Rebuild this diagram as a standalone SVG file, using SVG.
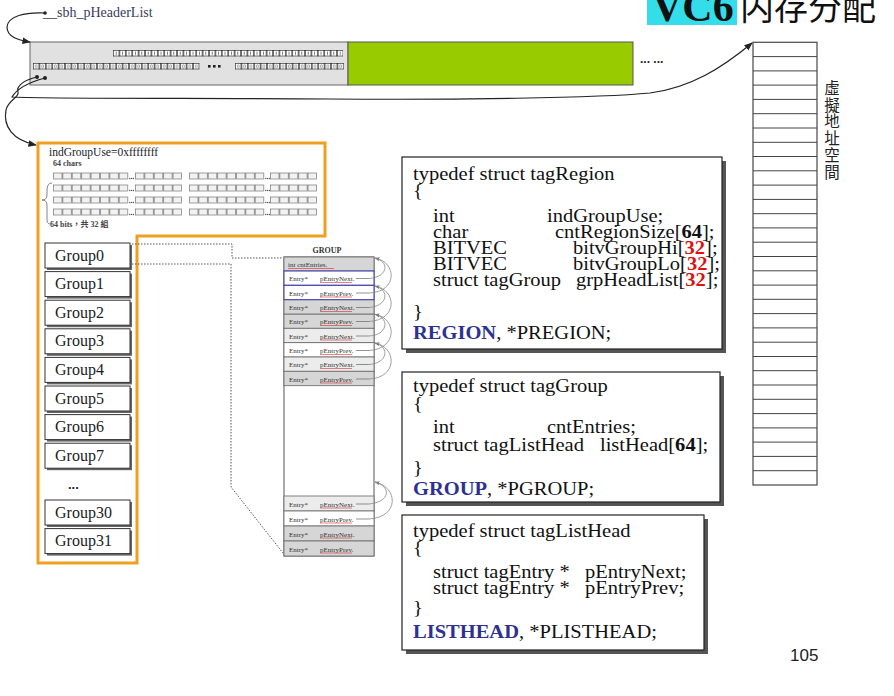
<svg xmlns="http://www.w3.org/2000/svg" width="894" height="696" viewBox="0 0 894 696">
<style>
.serif{font-family:"Liberation Serif","Times New Roman",serif}
.code{font-family:"Liberation Serif","Times New Roman",serif;font-size:19px;fill:#111}
.kw{font-weight:bold;fill:#2e3192}
.bn{font-weight:bold;fill:#111}
.rn{font-weight:bold;fill:#e01010}
.gbox{fill:#fff;stroke:#333;stroke-width:1}
.gsh{fill:#666}
.glab{font-family:"Liberation Serif","Times New Roman",serif;font-size:16px;fill:#222}
.ent{font-family:"Liberation Serif","Times New Roman",serif;font-size:7px;fill:#333}
.row{stroke:#666;stroke-width:.8}
.loop{fill:none;stroke:#888;stroke-width:.8}
.dash{stroke:#666;stroke-width:.7}
.red{stroke:#d03030;stroke-width:.6}
.conn{fill:none;stroke:#222;stroke-width:1.2}
.dot{fill:none;stroke:#555;stroke-width:1;stroke-dasharray:1.5 1.5}
</style>
<defs>
<marker id="arr" viewBox="0 0 10 10" refX="9" refY="5" markerWidth="7" markerHeight="7" orient="auto"><path d="M0,1 L10,5 L0,9 z" fill="#222"/></marker>
<marker id="arrs" viewBox="0 0 10 10" refX="9" refY="5" markerWidth="6" markerHeight="6" orient="auto"><path d="M0,1 L10,5 L0,9 z" fill="#777"/></marker>
<pattern id="bitI" patternUnits="userSpaceOnUse" width="6.4" height="6.5"><rect x="0.3" y="0.3" width="5.8" height="5.9" fill="#fff" stroke="#222" stroke-width="0.6"/><line x1="3.2" y1="1.5" x2="3.2" y2="5" stroke="#444" stroke-width="0.7"/></pattern>
<pattern id="bit0" patternUnits="userSpaceOnUse" width="6.4" height="6.5"><rect x="0.3" y="0.3" width="5.8" height="5.9" fill="#fff" stroke="#222" stroke-width="0.6"/><ellipse cx="3.2" cy="3.3" rx="1" ry="1.6" fill="none" stroke="#444" stroke-width="0.5"/></pattern>
<pattern id="cell" patternUnits="userSpaceOnUse" width="9.4" height="7"><rect x="0.4" y="0.4" width="8.6" height="6.2" fill="#f2f2f2" stroke="#777" stroke-width="0.7"/></pattern>
</defs>

<!-- title -->
<g id="title">
<rect x="647" y="0" width="90" height="25" fill="#33dde9"/>
<text x="652" y="21" font-family="Liberation Serif, serif" font-weight="bold" font-size="42" fill="#111">VC6</text>
<text x="740" y="20" font-family="Noto Sans CJK SC, sans-serif" font-size="34" fill="#111">内存分配</text>
</g>

<!-- header label -->
<g id="header">
<circle cx="45" cy="13" r="1.8" fill="#222"/>
<text x="43" y="17" class="serif" font-size="14" fill="#3a3a5a">__sbh_pHeaderList</text>
</g>

<!-- top bar -->
<g id="headerBlock">
<rect x="30" y="42" width="318" height="43" fill="#e1e1e1" stroke="#666" stroke-width="1"/>
<rect x="348" y="42" width="285" height="43" fill="#99cc00" stroke="#555" stroke-width="1"/>
<g transform="translate(113,50)"><rect width="230" height="6.5" fill="url(#bitI)"/></g>
<g transform="translate(33,63)"><rect width="166.4" height="6.5" fill="url(#bit0)"/></g>
<g transform="translate(235,63)"><rect width="108.8" height="6.5" fill="url(#bit0)"/></g>
<rect x="208" y="65" width="2.6" height="2.6" fill="#222"/><rect x="213" y="65" width="2.6" height="2.6" fill="#222"/><rect x="218" y="65" width="2.6" height="2.6" fill="#222"/>
<circle cx="37" cy="77" r="2" fill="#222"/><circle cx="45" cy="78" r="2" fill="#222"/>
<text x="640" y="63" font-family="Liberation Sans, sans-serif" font-weight="bold" font-size="12" fill="#222">... ...</text>
</g>

<!-- region box (orange) -->
<g id="region">
<polygon points="38,143 325,143 325,236 137,236 137,563 38,563" fill="#fff" stroke="#f0a020" stroke-width="3"/>
<text x="49" y="156" class="serif" font-size="11.5" fill="#222">indGroupUse=0xffffffff</text>
<text x="53" y="166" class="serif" font-size="8" font-weight="bold" fill="#444">64 chars</text>
<g transform="translate(53,172.5)"><rect width="75.2" height="7" fill="url(#cell)"/></g>
<g transform="translate(135,172.5)"><rect width="47" height="7" fill="url(#cell)"/></g>
<g transform="translate(189,172.5)"><rect width="75.2" height="7" fill="url(#cell)"/></g>
<g transform="translate(270,172.5)"><rect width="47" height="7" fill="url(#cell)"/></g>
<g transform="translate(53,184.5)"><rect width="75.2" height="7" fill="url(#cell)"/></g>
<g transform="translate(135,184.5)"><rect width="47" height="7" fill="url(#cell)"/></g>
<g transform="translate(189,184.5)"><rect width="75.2" height="7" fill="url(#cell)"/></g>
<g transform="translate(270,184.5)"><rect width="47" height="7" fill="url(#cell)"/></g>
<g transform="translate(53,196.5)"><rect width="75.2" height="7" fill="url(#cell)"/></g>
<g transform="translate(135,196.5)"><rect width="47" height="7" fill="url(#cell)"/></g>
<g transform="translate(189,196.5)"><rect width="75.2" height="7" fill="url(#cell)"/></g>
<g transform="translate(270,196.5)"><rect width="47" height="7" fill="url(#cell)"/></g>
<g transform="translate(53,208.5)"><rect width="75.2" height="7" fill="url(#cell)"/></g>
<g transform="translate(135,208.5)"><rect width="47" height="7" fill="url(#cell)"/></g>
<g transform="translate(189,208.5)"><rect width="75.2" height="7" fill="url(#cell)"/></g>
<g transform="translate(270,208.5)"><rect width="47" height="7" fill="url(#cell)"/></g>
<g fill="#555">
<circle cx="129.8" cy="178.5" r="0.7"/><circle cx="131.6" cy="178.5" r="0.7"/><circle cx="133.4" cy="178.5" r="0.7"/>
<circle cx="265.8" cy="178.5" r="0.7"/><circle cx="267.6" cy="178.5" r="0.7"/><circle cx="269.4" cy="178.5" r="0.7"/>
<circle cx="129.8" cy="190.5" r="0.7"/><circle cx="131.6" cy="190.5" r="0.7"/><circle cx="133.4" cy="190.5" r="0.7"/>
<circle cx="265.8" cy="190.5" r="0.7"/><circle cx="267.6" cy="190.5" r="0.7"/><circle cx="269.4" cy="190.5" r="0.7"/>
<circle cx="129.8" cy="202.5" r="0.7"/><circle cx="131.6" cy="202.5" r="0.7"/><circle cx="133.4" cy="202.5" r="0.7"/>
<circle cx="265.8" cy="202.5" r="0.7"/><circle cx="267.6" cy="202.5" r="0.7"/><circle cx="269.4" cy="202.5" r="0.7"/>
<circle cx="129.8" cy="214.5" r="0.7"/><circle cx="131.6" cy="214.5" r="0.7"/><circle cx="133.4" cy="214.5" r="0.7"/>
<circle cx="265.8" cy="214.5" r="0.7"/><circle cx="267.6" cy="214.5" r="0.7"/><circle cx="269.4" cy="214.5" r="0.7"/>
</g>
<path d="M52,183 Q47,183 47,190 L47,195 Q47,200 42,200 Q47,200 47,205 L47,219 Q47,224 50,224" fill="none" stroke="#666" stroke-width="0.8"/>
<text x="50" y="227" font-family="Liberation Serif, Noto Sans CJK TC, serif" font-size="8" font-weight="bold" fill="#444">64 bits，共 32 組</text>
</g>

<!-- group boxes -->
<g id="group0"><rect class="gsh" x="47" y="245" width="85" height="25"/><rect class="gbox" x="45" y="243" width="85" height="25"/><text class="glab" x="55" y="260.5">Group0</text></g>
<g id="group1"><rect class="gsh" x="47" y="273.6" width="85" height="25"/><rect class="gbox" x="45" y="271.6" width="85" height="25"/><text class="glab" x="55" y="289">Group1</text></g>
<g id="group2"><rect class="gsh" x="47" y="302.2" width="85" height="25"/><rect class="gbox" x="45" y="300.2" width="85" height="25"/><text class="glab" x="55" y="317.7">Group2</text></g>
<g id="group3"><rect class="gsh" x="47" y="330.8" width="85" height="25"/><rect class="gbox" x="45" y="328.8" width="85" height="25"/><text class="glab" x="55" y="346.3">Group3</text></g>
<g id="group4"><rect class="gsh" x="47" y="359.4" width="85" height="25"/><rect class="gbox" x="45" y="357.4" width="85" height="25"/><text class="glab" x="55" y="374.9">Group4</text></g>
<g id="group5"><rect class="gsh" x="47" y="388" width="85" height="25"/><rect class="gbox" x="45" y="386" width="85" height="25"/><text class="glab" x="55" y="403.5">Group5</text></g>
<g id="group6"><rect class="gsh" x="47" y="416.6" width="85" height="25"/><rect class="gbox" x="45" y="414.6" width="85" height="25"/><text class="glab" x="55" y="432.1">Group6</text></g>
<g id="group7"><rect class="gsh" x="47" y="445.2" width="85" height="25"/><rect class="gbox" x="45" y="443.2" width="85" height="25"/><text class="glab" x="55" y="460.7">Group7</text></g>
<g id="groupDots"><text x="68" y="489" font-family="Liberation Sans, sans-serif" font-weight="bold" font-size="13" fill="#222">...</text></g>
<g id="group30"><rect class="gsh" x="47" y="502" width="85" height="25"/><rect class="gbox" x="45" y="500" width="85" height="25"/><text class="glab" x="55" y="517.5">Group30</text></g>
<g id="group31"><rect class="gsh" x="47" y="530.6" width="85" height="25"/><rect class="gbox" x="45" y="528.6" width="85" height="25"/><text class="glab" x="55" y="546.1">Group31</text></g>

<!-- GROUP struct -->
<g id="groupStruct">
<text x="327" y="253" text-anchor="middle" class="serif" font-size="8" font-weight="bold" fill="#333">GROUP</text>
<rect x="284" y="257" width="90" height="299" fill="#fff" stroke="#555" stroke-width="1"/>
<rect class="row" x="284" y="257" width="90" height="14" fill="#d6d6d6"/>
<rect class="row" x="284" y="314" width="90" height="14.3" fill="#d6d6d6"/>
<rect class="row" x="284" y="328.3" width="90" height="14.4" fill="#ececec"/>
<rect class="row" x="284" y="342.7" width="90" height="14.3" fill="#fff"/>
<rect class="row" x="284" y="357" width="90" height="14.3" fill="#ececec"/>
<rect class="row" x="284" y="371.3" width="90" height="14.4" fill="#d6d6d6"/>
<rect class="row" x="284" y="299.7" width="90" height="14.3" fill="#d6d6d6"/>
<rect x="284" y="271" width="90" height="14.3" fill="#fff" stroke="#3333aa" stroke-width="1"/>
<rect x="284" y="285.3" width="90" height="14.4" fill="#fff" stroke="#3333aa" stroke-width="1"/>
<rect class="row" x="284" y="496" width="90" height="15" fill="#ececec"/>
<rect class="row" x="284" y="511" width="90" height="15" fill="#fff"/>
<rect class="row" x="284" y="526" width="90" height="15" fill="#d6d6d6"/>
<rect class="row" x="284" y="541" width="90" height="15" fill="#d6d6d6"/>
<text class="ent" x="288" y="267">int  cntEntries.</text><line class="red" x1="288" y1="268.5" x2="334" y2="268.5"/>
<g id="entryTexts">
<text class="ent" x="289" y="281">Entry*</text><text class="ent" x="320" y="281">pEntryNext.</text>
<text class="ent" x="289" y="295.5">Entry*</text><text class="ent" x="320" y="295.5">pEntryPrev.</text>
<text class="ent" x="289" y="310">Entry*</text><text class="ent" x="320" y="310">pEntryNext.</text>
<text class="ent" x="289" y="324">Entry*</text><text class="ent" x="320" y="324">pEntryPrev.</text>
<text class="ent" x="289" y="338.5">Entry*</text><text class="ent" x="320" y="338.5">pEntryNext.</text>
<text class="ent" x="289" y="353">Entry*</text><text class="ent" x="320" y="353">pEntryPrev.</text>
<text class="ent" x="289" y="367">Entry*</text><text class="ent" x="320" y="367">pEntryNext.</text>
<text class="ent" x="289" y="381.5">Entry*</text><text class="ent" x="320" y="381.5">pEntryPrev.</text>
<text class="ent" x="289" y="506.5">Entry*</text><text class="ent" x="320" y="506.5">pEntryNext.</text>
<text class="ent" x="289" y="521.5">Entry*</text><text class="ent" x="320" y="521.5">pEntryPrev.</text>
<text class="ent" x="289" y="536.5">Entry*</text><text class="ent" x="320" y="536.5">pEntryNext.</text>
<text class="ent" x="289" y="551.5">Entry*</text><text class="ent" x="320" y="551.5">pEntryPrev.</text>
</g>
<g id="entryUnderlines">
<line class="red" x1="320" y1="282.5" x2="352" y2="282.5"/><line class="red" x1="320" y1="297" x2="352" y2="297"/>
<line class="red" x1="320" y1="311.5" x2="352" y2="311.5"/><line class="red" x1="320" y1="325.5" x2="352" y2="325.5"/>
<line class="red" x1="320" y1="340" x2="352" y2="340"/><line class="red" x1="320" y1="354.5" x2="352" y2="354.5"/>
<line class="red" x1="320" y1="368.5" x2="352" y2="368.5"/><line class="red" x1="320" y1="383" x2="352" y2="383"/>
<line class="red" x1="320" y1="508" x2="352" y2="508"/><line class="red" x1="320" y1="523" x2="352" y2="523"/>
<line class="red" x1="320" y1="538" x2="352" y2="538"/><line class="red" x1="320" y1="553" x2="352" y2="553"/>
</g>
</g>

<!-- address space column -->
<g id="addressSpace">
<rect x="753" y="42.3" width="64" height="442.7" fill="#fff" stroke="#555" stroke-width="1.3"/>
<path d="M753,56.6H817M753,70.9H817M753,85.1H817M753,99.4H817M753,113.7H817M753,128H817M753,142.3H817M753,156.5H817M753,170.8H817M753,185.1H817M753,199.4H817M753,213.7H817M753,227.9H817M753,242.2H817M753,256.5H817M753,270.8H817M753,285.1H817M753,299.3H817M753,313.6H817M753,327.9H817M753,342.2H817M753,356.5H817M753,370.7H817M753,385H817M753,399.3H817M753,413.6H817M753,427.9H817M753,442.1H817M753,456.4H817M753,470.7H817" stroke="#444" stroke-width="1"/>
<g font-family="Noto Sans CJK TC, sans-serif" font-size="15.5" fill="#222" text-anchor="middle">
<text x="832" y="94">虛</text><text x="832" y="110.7">擬</text><text x="832" y="127.4">地</text><text x="832" y="144.1">址</text><text x="832" y="160.8">空</text><text x="832" y="177.5">間</text>
</g>
</g>

<!-- code boxes -->
<g id="tagRegion">
<rect x="406" y="161" width="320" height="192" fill="#555"/>
<rect x="402" y="157" width="320" height="192" fill="#fff" stroke="#222" stroke-width="1.2"/>
<g transform="matrix(1.08,0,0,1,-33.04,0)">
<text class="code" x="413" y="180">typedef struct tagRegion</text>
<text class="code" x="413" y="197">{</text>
<text class="code" x="431.5" y="222">int</text><text class="code" x="537.1" y="222">indGroupUse;</text>
<text class="code" x="431.5" y="238">char</text><text class="code" x="544.5" y="238">cntRegionSize[<tspan class="bn">64</tspan>];</text>
<text class="code" x="431.5" y="254">BITVEC</text><text class="code" x="561.1" y="254">bitvGroupHi[<tspan class="rn">32</tspan>];</text>
<text class="code" x="431.5" y="270">BITVEC</text><text class="code" x="561.1" y="270">bitvGroupLo[<tspan class="rn">32</tspan>];</text>
<text class="code" x="431.5" y="286">struct tagGroup</text><text class="code" x="563.9" y="286">grpHeadList[<tspan class="rn">32</tspan>];</text>
<text class="code" x="413" y="318">}</text>
<text class="code" x="413" y="339"><tspan class="kw">REGION</tspan>, *PREGION;</text>
</g>
</g>
<g id="tagGroup">
<rect x="406" y="376" width="318" height="130" fill="#555"/>
<rect x="402" y="372" width="318" height="130" fill="#fff" stroke="#222" stroke-width="1.2"/>
<g transform="matrix(1.08,0,0,1,-33.04,0)">
<text class="code" x="413" y="392">typedef struct tagGroup</text>
<text class="code" x="413" y="410">{</text>
<text class="code" x="431.5" y="433">int</text><text class="code" x="537.1" y="433">cntEntries;</text>
<text class="code" x="431.5" y="451">struct tagListHead</text><text class="code" x="586.1" y="451">listHead[<tspan class="bn">64</tspan>];</text>
<text class="code" x="413" y="474">}</text>
<text class="code" x="413" y="495"><tspan class="kw">GROUP</tspan>, *PGROUP;</text>
</g>
</g>
<g id="tagListHead">
<rect x="406" y="519" width="302" height="135" fill="#555"/>
<rect x="402" y="515" width="302" height="135" fill="#fff" stroke="#222" stroke-width="1.2"/>
<g transform="matrix(1.08,0,0,1,-33.04,0)">
<text class="code" x="413" y="537">typedef struct tagListHead</text>
<text class="code" x="413" y="554">{</text>
<text class="code" x="431.5" y="578">struct tagEntry *</text><text class="code" x="572.3" y="578">pEntryNext;</text>
<text class="code" x="431.5" y="594">struct tagEntry *</text><text class="code" x="572.3" y="594">pEntryPrev;</text>
<text class="code" x="413" y="614">}</text>
<text class="code" x="413" y="638"><tspan class="kw">LISTHEAD</tspan>, *PLISTHEAD;</text>
</g>
</g>

<g id="pageNumber"><text x="790" y="661" font-family="Liberation Sans, sans-serif" font-size="17" fill="#222">105</text></g>

<!-- connectors -->
<g id="connectors">
<path class="conn" d="M45,13 C25,12 8,16 7,27 C7,37 18,40 30,42" marker-end="url(#arr)"/>
<path class="conn" d="M37,77 C24,80 16,86 18,92 C20,97 8,100 6,110 C3,126 12,140 36,145" marker-end="url(#arr)"/>
<path class="conn" d="M45,78 C30,82 18,87 12,97 C60,99 200,98 330,99 C450,100 600,98 650,93 C690,88 722,68 752,43" marker-end="url(#arr)" stroke="#333" stroke-width="1.4"/>
<path class="dot" d="M132,244 H232 V258 H283"/>
<path class="dot" d="M132,264 H231 V487 L283,553"/>
<g id="entryLoops">
<path class="dash" d="M356,278.5 H369 M356,293 H369 M356,307.5 H369 M356,321.5 H369 M356,336 H369 M356,350.5 H369 M356,364.5 H369 M356,379 H369 M356,504 H369 M356,519 H369"/>
<path class="loop" d="M369,278.5 C388,277 390,262 375,258" marker-end="url(#arrs)"/>
<path class="loop" d="M369,293 C398,292 397,262 375,258"/>
<path class="loop" d="M369,307.5 C388,306 390,290 375,286" marker-end="url(#arrs)"/>
<path class="loop" d="M369,321.5 C398,320 397,290 375,286"/>
<path class="loop" d="M369,336 C388,335 390,318 375,314.3" marker-end="url(#arrs)"/>
<path class="loop" d="M369,350.5 C398,349 397,318 375,314.3"/>
<path class="loop" d="M369,364.5 C388,363 390,347 375,343" marker-end="url(#arrs)"/>
<path class="loop" d="M369,379 C398,378 397,347 375,343"/>
<path class="loop" d="M369,504 C390,502 392,487 375,482" marker-end="url(#arrs)"/>
<path class="loop" d="M369,519 C400,517 398,487 375,482"/>
</g>
</g>
</svg>
